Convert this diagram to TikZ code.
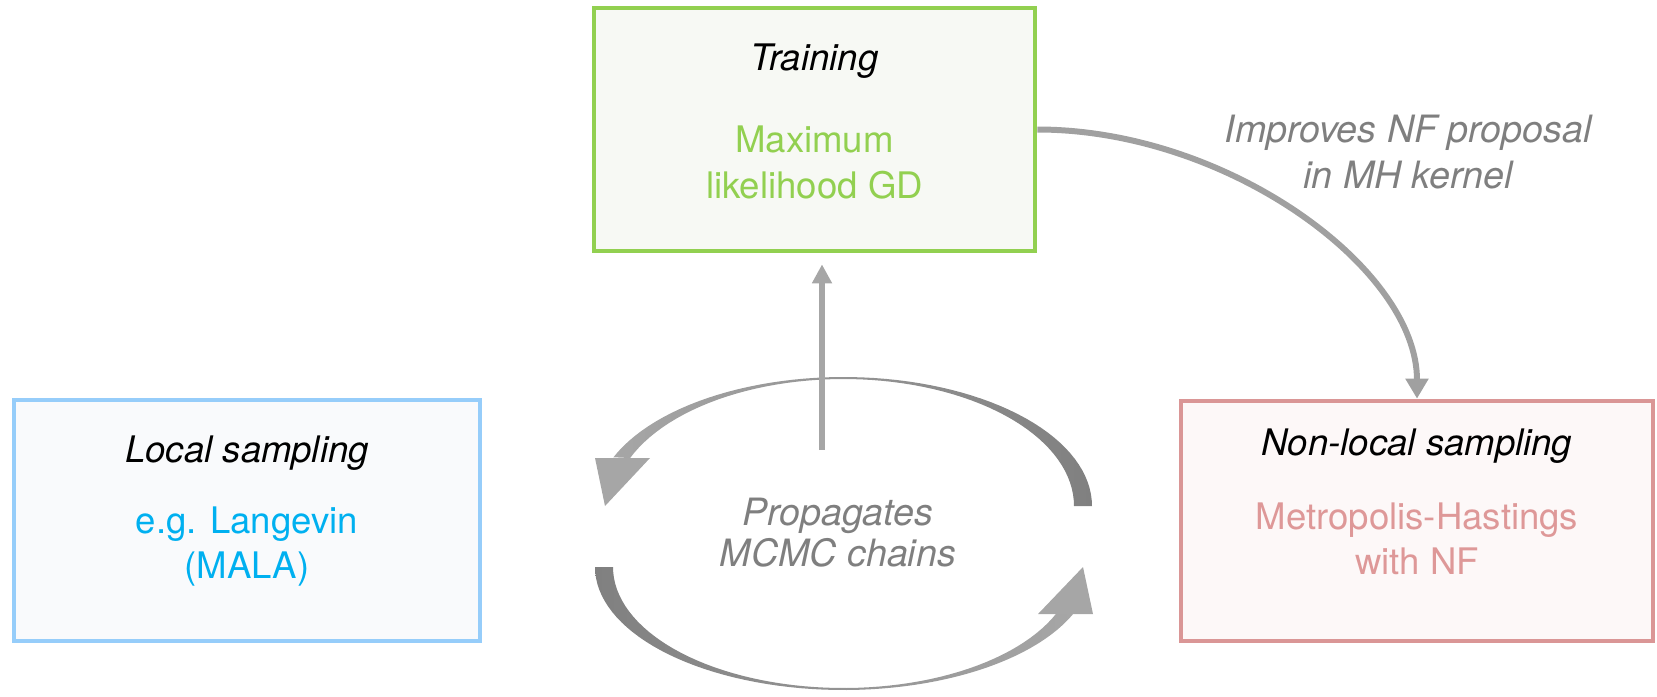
\documentclass[tikz,border=0pt]{standalone}
\usepackage{fontspec}
\setmainfont{TeX Gyre Heros}
\usetikzlibrary{arrows.meta}

\definecolor{trainGreen}{RGB}{146,208,80}
\definecolor{trainFill}{RGB}{247,249,244}
\definecolor{localBlue}{RGB}{150,205,250}
\definecolor{localText}{RGB}{0,176,240}
\definecolor{localFill}{RGB}{249,250,252}
\definecolor{nonlocRed}{RGB}{218,150,150}
\definecolor{nonlocText}{RGB}{222,152,152}
\definecolor{nonlocFill}{RGB}{253,248,248}
\definecolor{noteGray}{RGB}{127,127,127}
\definecolor{linkGray}{RGB}{160,160,160}
\definecolor{ringDark}{RGB}{128,128,128}
\definecolor{ringPale}{RGB}{205,205,205}
\definecolor{ringLight}{RGB}{166,166,166}

\begin{document}
\begin{tikzpicture}[x=0.01cm,y=-0.01cm]
\tikzstyle{box} = [draw, line width=1.3pt, inner sep=0pt]
\tikzstyle{title} = [font=\fontsize{10.4}{12.8}\selectfont\itshape, anchor=base]
\tikzstyle{body} = [font=\fontsize{10.4}{12.8}\selectfont, align=center, anchor=base]
\tikzstyle{note} = [font=\fontsize{10.7}{13}\selectfont\itshape, text=noteGray, align=center]
\tikzstyle{link} = [draw=linkGray, line width=1.7pt, -{Triangle[length=0.2cm,width=0.22cm]}]

\useasboundingbox (0,0) rectangle (1657,696);

% the three stages
\node[box, draw=trainGreen, fill=trainFill, minimum width=4.41cm, minimum height=2.43cm] (trn) at (814.5,129.5) {};
\node[box, draw=localBlue, fill=localFill, minimum width=4.66cm, minimum height=2.41cm] (loc) at (247,520.5) {};
\node[box, draw=nonlocRed, fill=nonlocFill, minimum width=4.72cm, minimum height=2.40cm] (nonloc) at (1417,521) {};

\node[title] (trn-title) at (814.5,70) {Training};
\node[body, text=trainGreen] (trn-body) at (814.5,198) {Maximum\\likelihood GD};

\node[title] (loc-title) at (247,462) {Local sampling};
\node[body, text=localText] (loc-body) at (247,578) {e.g. Langevin\\(MALA)};

\node[title] (nonloc-title) at (1417,455) {Non-local sampling};
\node[body, text=nonlocText] (nonloc-body) at (1417,574) {Metropolis-Hastings\\with NF};

% the chain loop
\shade[left color=ringLight, middle color=ringPale, right color=ringDark]
  plot[domain=0:-157.8, samples=60] ({843.5+248.5*cos(\x)},{506+129*sin(\x)})
  -- plot[domain=-157.8:0, samples=60] ({843.5+230.5*cos(\x)},{506+127*sin(\x)}) -- cycle;
\fill[ringLight] (595,458) -- (650,458) -- (605,506) -- cycle;

\shade[left color=ringDark, middle color=ringPale, right color=ringLight]
  plot[domain=180:22.5, samples=60] ({843.5+248.5*cos(\x)},{567+123*sin(\x)})
  -- plot[domain=22.5:180, samples=60] ({843.5+230.5*cos(\x)},{567+121*sin(\x)}) -- cycle;
\fill[ringLight] (1038,614) -- (1093,614) -- (1083,567) -- cycle;

\node[note, font=\fontsize{10.7}{11.6}\selectfont\itshape] (prop) at (838,533) {Propagates\\MCMC chains};

\coordinate (chain-top) at (822,450);
\draw[link, draw=ringLight, line width=1.8pt, -{Triangle[length=0.19cm,width=0.19cm]}, shorten >=0.11cm] (chain-top) -- (chain-top |- trn.south);

% proposal update
\draw[link] (trn.east) .. controls +(190,0) and +(0,-130) .. (nonloc.north);
\node[note] (improve) at (1408,152) {Improves NF proposal\\in MH kernel};

\end{tikzpicture}
\end{document}
